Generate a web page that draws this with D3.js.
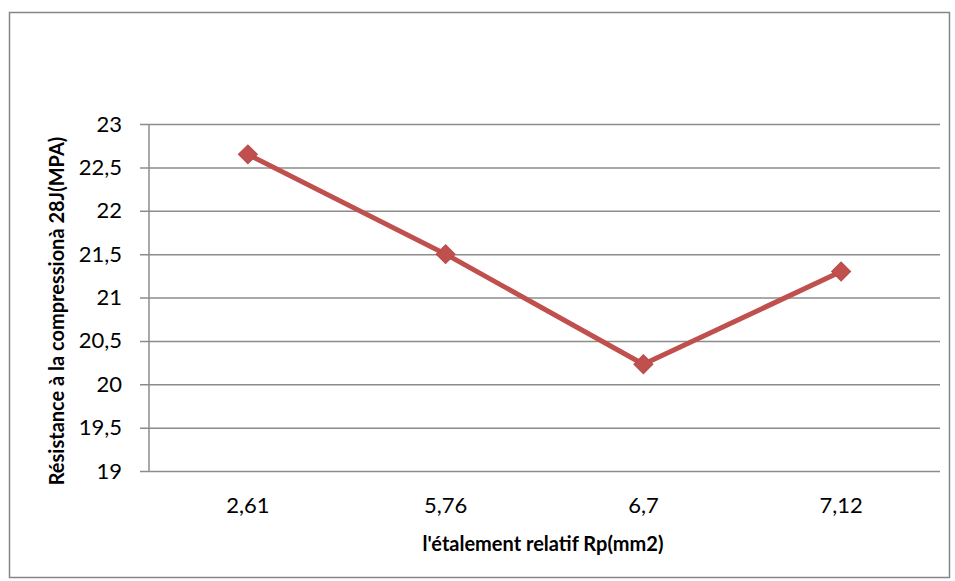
<!DOCTYPE html>
<html>
<head>
<meta charset="utf-8">
<script src="https://cdn.jsdelivr.net/npm/d3@7"></script>
<style>
  html, body { margin: 0; padding: 0; background: #fff; }
  svg { display: block; }
  text { font-family: Lato, "Open Sans", sans-serif; fill: #000; }
</style>
</head>
<body>
<svg id="chart" width="955" height="581"></svg>
<script>
// Compressive strength at 28 days vs relative spread
const categories = ["2,61", "5,76", "6,7", "7,12"];
const strength = [22.65, 21.5, 20.23, 21.3];
const yTicks = [19, 19.5, 20, 20.5, 21, 21.5, 22, 22.5, 23];
const yTickLabels = ["19", "19,5", "20", "20,5", "21", "21,5", "22", "22,5", "23"];

const svg = d3.select("#chart");
const plot = { left: 149, right: 940, top: 124, bottom: 471 };

// chart frame
svg.append("rect")
  .attr("x", 9.5).attr("y", 12.5)
  .attr("width", 940).attr("height", 565)
  .attr("fill", "#fff").attr("stroke", "#868686").attr("stroke-width", 1.5);

const x = d3.scaleBand().domain(categories).range([plot.left, plot.right]);
const y = d3.scaleLinear().domain([19, 23]).range([plot.bottom, plot.top]);

// horizontal gridlines with left tick marks
const yAxis = d3.axisLeft(y).tickValues(yTicks)
  .tickSize(-(plot.right - plot.left))
  .tickSizeOuter(0)
  .tickFormat((d, i) => yTickLabels[i]);
const gy = svg.append("g").attr("transform", `translate(${plot.left},0)`).call(yAxis);
gy.select(".domain").remove();
gy.selectAll(".tick line").attr("stroke", "#8c8c8c").attr("stroke-width", 1.5)
  .attr("x1", -9);
gy.selectAll(".tick text").attr("x", -27).attr("font-size", 22);

// vertical axis line
svg.append("line")
  .attr("x1", plot.left).attr("x2", plot.left)
  .attr("y1", plot.top).attr("y2", plot.bottom)
  .attr("stroke", "#8c8c8c").attr("stroke-width", 1.5);

// category axis labels
const xAxis = d3.axisBottom(x).tickSize(0);
const gx = svg.append("g").attr("transform", `translate(0,${plot.bottom})`).call(xAxis);
gx.select(".domain").remove();
gx.selectAll(".tick text").attr("font-size", 22).attr("y", 42).attr("dy", 0);

// series line
const line = d3.line()
  .x((d, i) => x(categories[i]) + x.bandwidth() / 2)
  .y(d => y(d));
svg.append("path").datum(strength)
  .attr("d", line)
  .attr("fill", "none").attr("stroke", "#C0504D")
  .attr("stroke-width", 5).attr("stroke-linejoin", "round");

// diamond markers
svg.selectAll(".marker").data(strength).enter().append("path")
  .attr("class", "marker")
  .attr("d", d3.symbol().type(d3.symbolSquare).size(180))
  .attr("transform", (d, i) => `translate(${x(categories[i]) + x.bandwidth() / 2},${y(d)}) rotate(45)`)
  .attr("fill", "#C0504D").attr("stroke", "#B9494A").attr("stroke-width", 1);

// axis titles
svg.append("text")
  .attr("x", 543).attr("y", 551)
  .attr("text-anchor", "middle").attr("font-size", 20).attr("font-weight", "bold")
  .text("l'étalement relatif Rp(mm2)");
svg.append("text")
  .attr("transform", "translate(64,311) rotate(-90)")
  .attr("text-anchor", "middle").attr("font-size", 20).attr("font-weight", "bold")
  .text("Résistance à la compressionà 28J(MPA)");
</script>
</body>
</html>
